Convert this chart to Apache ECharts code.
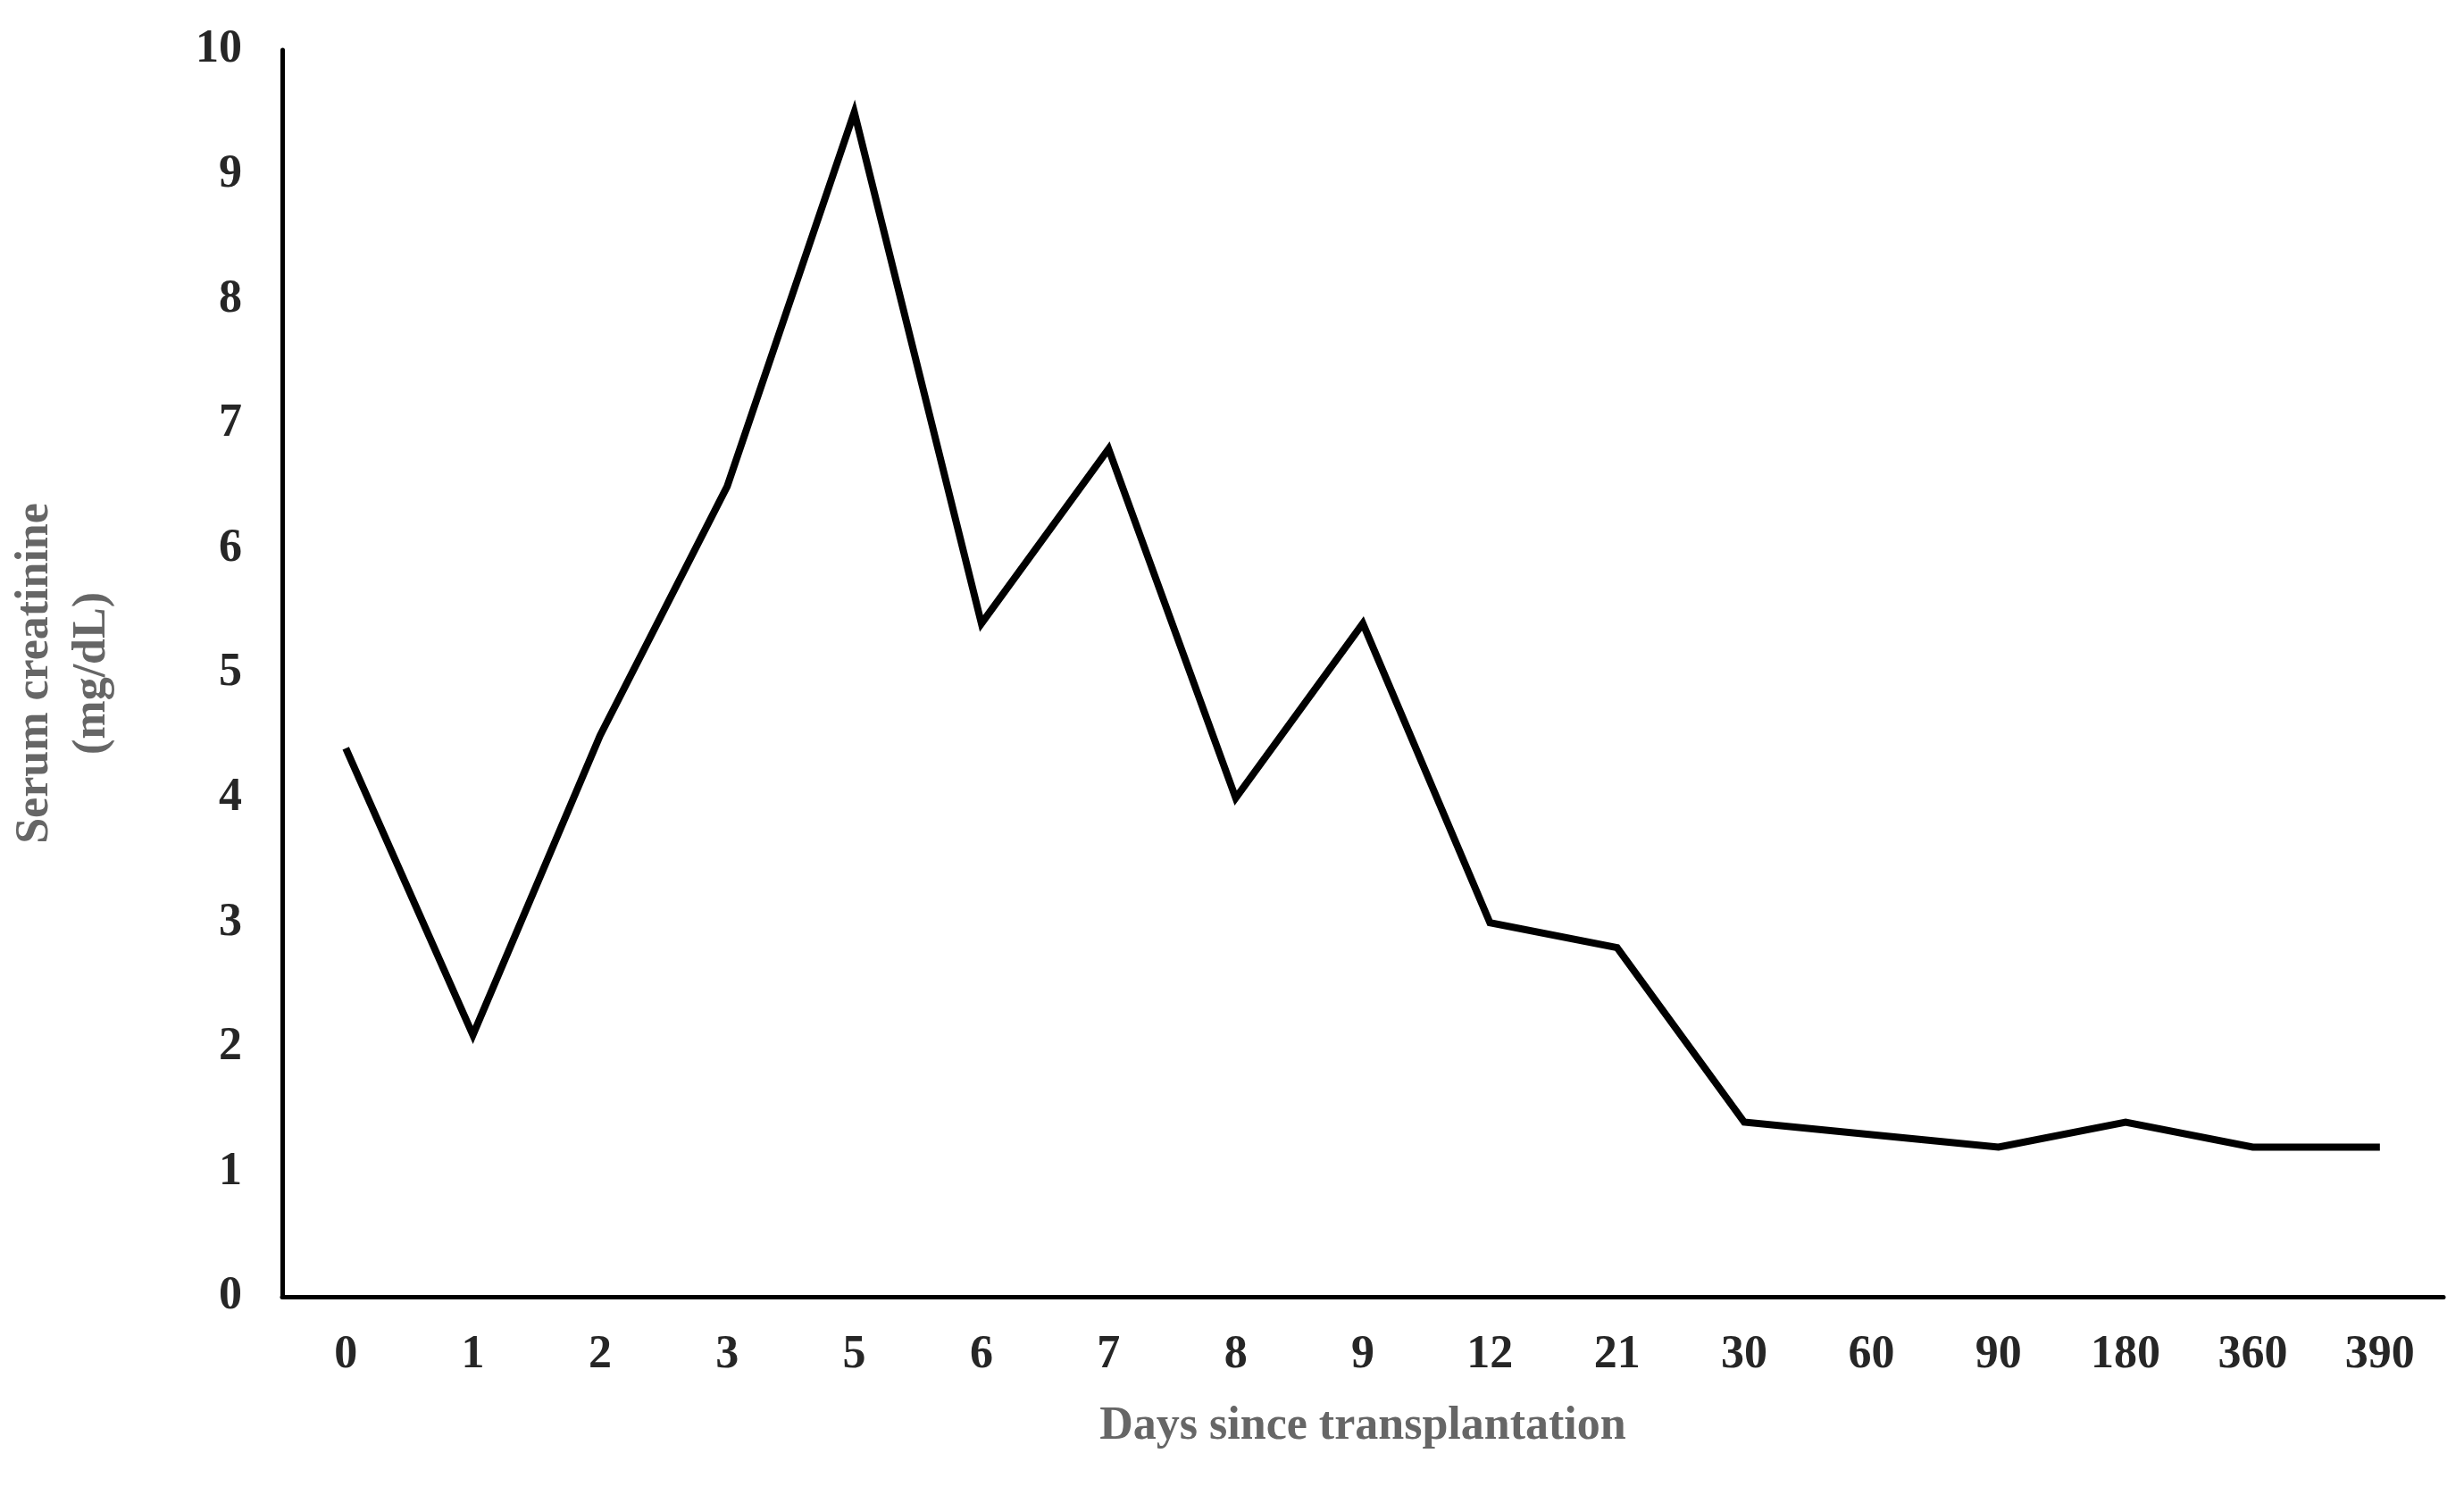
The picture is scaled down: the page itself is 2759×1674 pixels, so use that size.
<!DOCTYPE html>
<html><head><meta charset="utf-8">
<script src="https://cdn.jsdelivr.net/npm/echarts@6/dist/echarts.min.js"></script>
<style>html,body{margin:0;padding:0;background:#fff}#c{width:2759px;height:1674px}</style>
</head><body><div id="c"></div>
<script>
const days = ['0','1','2','3','5','6','7','8','9','12','21','30','60','90','180','360','390'];
const creatinine = [4.4,2.1,4.5,6.5,9.5,5.4,6.8,4.0,5.4,3.0,2.8,1.4,1.3,1.2,1.4,1.2,1.2];
const yTicks = [0,1,2,3,4,5,6,7,8,9,10];
const font = '"Liberation Serif", "DejaVu Serif", serif';
const chart = echarts.init(document.getElementById('c'));
chart.setOption({
  animation:false,
  grid:{left:308,right:23,top:56,bottom:222,containLabel:false},
  xAxis:{type:'category',data:days,boundaryGap:true,
    name:'Days since transplantation',nameLocation:'middle',nameGap:120,
    nameTextStyle:{fontFamily:font,fontWeight:'bold',fontSize:52,color:'#666'},
    axisLine:{lineStyle:{color:'#000',width:5}},axisTick:{show:false},
    axisLabel:{fontFamily:font,fontWeight:'bold',fontSize:52,color:'#262626',margin:40}},
  yAxis:{type:'value',min:0,max:10,interval:1,
    name:'Serum creatinine\n(mg/dL)',nameLocation:'middle',nameGap:180,
    nameTextStyle:{fontFamily:font,fontWeight:'bold',fontSize:52,color:'#666',lineHeight:64},
    axisLine:{show:true,lineStyle:{color:'#000',width:5}},axisTick:{show:false},
    splitLine:{show:false},
    axisLabel:{fontFamily:font,fontWeight:'bold',fontSize:52,color:'#262626',margin:45,
      formatter:v=>yTicks.includes(v)?String(v):''}},
  series:[{type:'line',data:creatinine,symbol:'none',
    lineStyle:{color:'#000',width:8,join:'miter'}}]
});
</script></body></html>
